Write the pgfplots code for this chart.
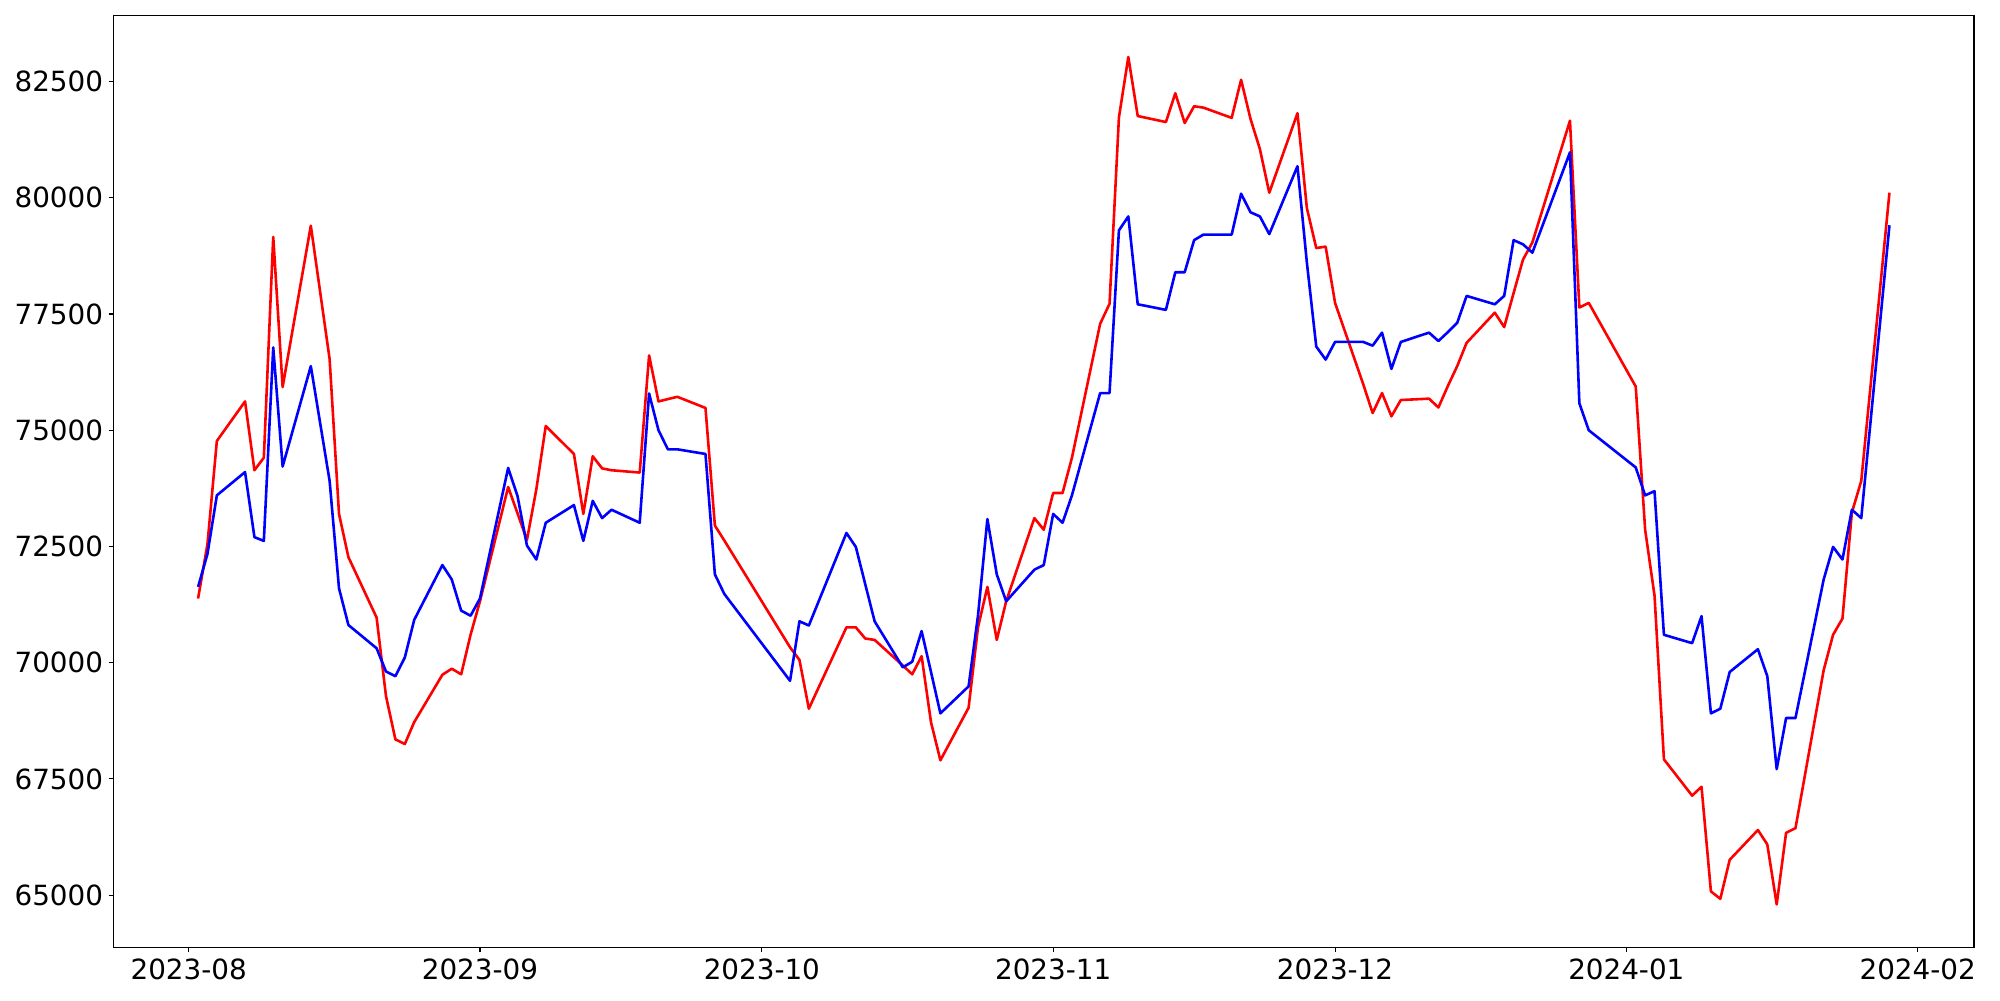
\documentclass[border=0pt]{standalone}
\usepackage{fontspec}
\setmainfont{DejaVu Sans}
\usepackage{pgfplots}
\usepackage{pgfplotstable}
\pgfplotsset{compat=1.18}
\usepgfplotslibrary{dateplot}

% daily closes (red / blue series)
\pgfplotstableread{
date red blue
2023-08-02 71380 71630
2023-08-03 72550 72340
2023-08-04 74770 73600
2023-08-07 75620 74100
2023-08-08 74140 72700
2023-08-09 74410 72620
2023-08-10 79160 76780
2023-08-11 75930 74220
2023-08-14 79400 76380
2023-08-16 76530 73910
2023-08-17 73200 71600
2023-08-18 72270 70810
2023-08-21 70970 70310
2023-08-22 69280 69810
2023-08-23 68350 69710
2023-08-24 68250 70110
2023-08-25 68720 70920
2023-08-28 69740 72100
2023-08-29 69870 71790
2023-08-30 69750 71120
2023-08-31 70600 71010
2023-09-01 71320 71380
2023-09-04 73780 74190
2023-09-05 73210 73580
2023-09-06 72640 72520
2023-09-07 73730 72220
2023-09-08 75090 73010
2023-09-11 74490 73390
2023-09-12 73200 72620
2023-09-13 74440 73480
2023-09-14 74180 73110
2023-09-15 74140 73290
2023-09-18 74090 73010
2023-09-19 76610 75790
2023-09-20 75620 75000
2023-09-21 75670 74590
2023-09-22 75720 74590
2023-09-25 75480 74490
2023-09-26 72950 71900
2023-09-27 72630 71480
2023-10-04 70330 69610
2023-10-05 70060 70890
2023-10-06 69010 70800
2023-10-10 70760 72790
2023-10-11 70760 72490
2023-10-12 70520 71690
2023-10-13 70490 70890
2023-10-16 69940 69900
2023-10-17 69750 70020
2023-10-18 70140 70680
2023-10-19 68720 69800
2023-10-20 67900 68910
2023-10-23 69030 69490
2023-10-24 70760 71010
2023-10-25 71630 73090
2023-10-26 70490 71900
2023-10-27 71320 71320
2023-10-30 73110 72000
2023-10-31 72860 72100
2023-11-01 73650 73200
2023-11-02 73650 73010
2023-11-03 74410 73600
2023-11-06 77290 75800
2023-11-07 77720 75800
2023-11-08 81730 79300
2023-11-09 83030 79600
2023-11-10 81760 77710
2023-11-13 81630 77590
2023-11-14 82250 78400
2023-11-15 81610 78400
2023-11-16 81970 79090
2023-11-17 81940 79210
2023-11-20 81720 79210
2023-11-21 82540 80090
2023-11-22 81700 79690
2023-11-23 81050 79600
2023-11-24 80110 79220
2023-11-27 81820 80680
2023-11-28 79780 78610
2023-11-29 78920 76800
2023-11-30 78950 76520
2023-12-01 77740 76900
2023-12-04 75990 76900
2023-12-05 75370 76820
2023-12-06 75800 77100
2023-12-07 75300 76320
2023-12-08 75650 76900
2023-12-11 75680 77100
2023-12-12 75490 76920
2023-12-13 75950 77110
2023-12-14 76380 77310
2023-12-15 76880 77890
2023-12-18 77530 77710
2023-12-19 77220 77890
2023-12-20 77950 79090
2023-12-21 78670 79000
2023-12-22 79040 78820
2023-12-26 81660 80980
2023-12-27 77640 75580
2023-12-28 77740 75000
2024-01-02 75940 74200
2024-01-03 72860 73600
2024-01-04 71440 73690
2024-01-05 67920 70600
2024-01-08 67140 70420
2024-01-09 67330 71000
2024-01-10 65080 68910
2024-01-11 64920 69010
2024-01-12 65760 69800
2024-01-15 66400 70290
2024-01-16 66090 69710
2024-01-17 64800 67710
2024-01-18 66340 68810
2024-01-19 66440 68810
2024-01-22 69840 71790
2024-01-23 70600 72490
2024-01-24 70950 72220
2024-01-25 73230 73290
2024-01-26 73910 73110
2024-01-29 80110 79410
}\prices

\begin{document}
\begin{tikzpicture}
\useasboundingbox (-56.75pt,-26.5pt) rectangle (943.25pt,473.65pt);
\begin{axis}[
    scale only axis,
    width=930.25pt,
    height=466pt,
    date coordinates in=x,
    xmin=2023-07-24, xmax=2024-02-07,
    ymin=63877, ymax=83927,
    xtick={2023-08-01,2023-09-01,2023-10-01,2023-11-01,2023-12-01,2024-01-01,2024-02-01},
    xticklabels={2023-08,2023-09,2023-10,2023-11,2023-12,2024-01,2024-02},
    ytick={65000,67500,70000,72500,75000,77500,80000,82500},
    scaled y ticks=false,
    /pgf/number format/.cd, 1000 sep={}, assume math mode=true, /pgfplots/.cd,
    tick align=outside,
    xtick pos=bottom, ytick pos=left,
    major tick length=2.43pt,
    every tick/.style={black, line width=0.55pt},
    axis line style={line width=0.55pt},
    ticklabel style={font=\fontsize{13.9}{16}\selectfont},
    xticklabel style={anchor=north, inner sep=0pt, yshift=-3.2pt},
    yticklabel style={anchor=east, inner sep=0pt, xshift=-2.6pt},
]
\addplot[red, line width=1.3pt, line join=round] table[x=date, y=red] {\prices};
\addplot[blue, line width=1.3pt, line join=round] table[x=date, y=blue] {\prices};
\end{axis}
\end{tikzpicture}
\end{document}
